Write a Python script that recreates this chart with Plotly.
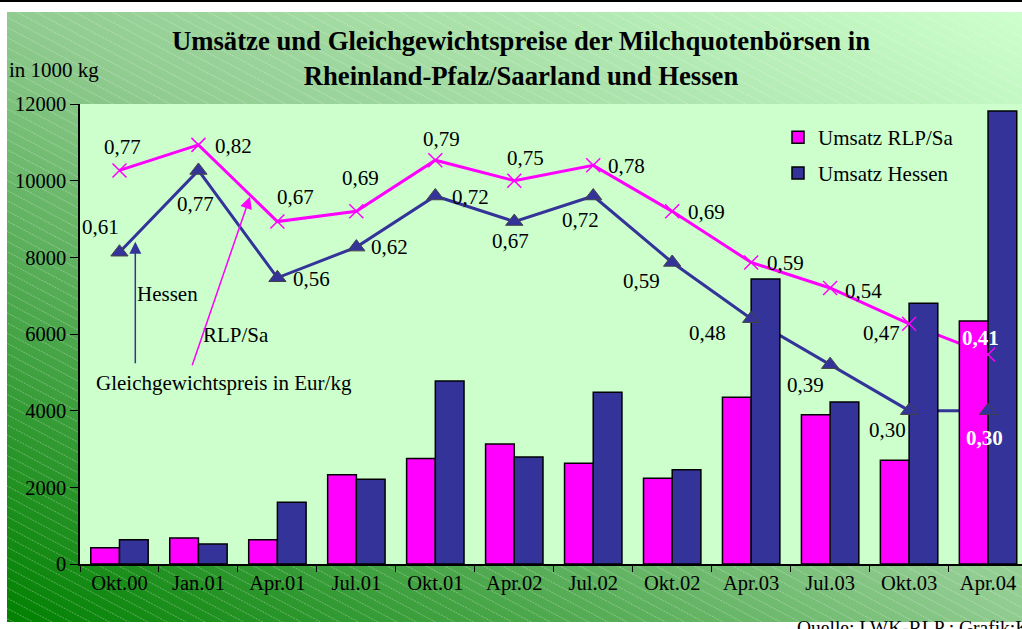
import base64
import plotly.graph_objects as go

categories = ["Okt.00", "Jan.01", "Apr.01", "Jul.01", "Okt.01", "Apr.02",
              "Jul.02", "Okt.02", "Apr.03", "Jul.03", "Okt.03", "Apr.04"]
umsatz_rlp = [425, 680, 635, 2330, 2750, 3130, 2625, 2235, 4350, 3895, 2705, 6340]
umsatz_hessen = [635, 520, 1610, 2210, 4775, 2790, 4480, 2460, 7435, 4225, 6800, 11820]
preis_rlp = [0.77, 0.82, 0.67, 0.69, 0.79, 0.75, 0.78, 0.69, 0.59, 0.54, 0.47, 0.41]
preis_hessen = [0.61, 0.77, 0.56, 0.62, 0.72, 0.67, 0.72, 0.59, 0.48, 0.39, 0.30, 0.30]
y_ticks = [0, 2000, 4000, 6000, 8000, 10000, 12000]

# label offsets (pixels, relative to the point; +dy = down)
off_rlp = [(3, -23), (35, 1), (18, -25), (4, -33), (6, -21), (11, -23),
           (33, 1), (34, 1), (34, 1), (33, 3), (-28, 9), (-8, -16)]
off_hessen = [(-19, -25), (-3, 34), (34, 1), (33, 0), (35, 1), (-4, 19),
              (-13, 24), (-31, 19), (-44, 14), (-25, 20), (-22, 19), (-4, 27)]

MAG = "#ff00ff"
BLU = "#333399"
FONT = "Liberation Serif, Times New Roman, serif"

W, H = 1022, 629
L, R, T, B = 80, 1022, 104, 564


def px(x):
    return (x - L) / (R - L)


def py(y):
    return (B - y) / (B - T)


def fmt(v):
    return ("%.2f" % v).replace(".", ",")


svg = """<svg xmlns="http://www.w3.org/2000/svg" width="1015" height="610" viewBox="0 0 1015 610" preserveAspectRatio="none">
<defs>
<linearGradient id="g" x1="0" y1="1" x2="1" y2="0">
<stop offset="0" stop-color="#008000"/><stop offset="0.5" stop-color="#90cb90"/><stop offset="1" stop-color="#ccffcc"/>
</linearGradient>
<pattern id="h" width="12" height="9" patternUnits="userSpaceOnUse" patternTransform="rotate(28)">
<line x1="0" y1="4.5" x2="12" y2="4.5" stroke="#ffffff" stroke-opacity="0.35" stroke-width="0.8" stroke-dasharray="2,1"/>
</pattern>
</defs>
<rect width="1015" height="610" fill="url(#g)"/>
<rect width="1015" height="610" fill="url(#h)"/>
</svg>"""
bg_uri = "data:image/svg+xml;base64," + base64.b64encode(svg.encode()).decode()

fig = go.Figure()

# price lines (behind bars)
fig.add_trace(go.Scatter(x=categories, y=preis_rlp, mode="lines", line=dict(color=MAG, width=3),
                         yaxis="y", showlegend=False, hoverinfo="skip"))
fig.add_trace(go.Scatter(x=categories, y=preis_hessen, mode="lines", line=dict(color=BLU, width=3),
                         yaxis="y", showlegend=False, hoverinfo="skip"))

# bars
fig.add_trace(go.Bar(x=categories, y=umsatz_rlp, name="Umsatz RLP/Sa", yaxis="y2",
                     marker=dict(color=MAG, line=dict(color="black", width=1.5)), legendgroup="a"))
fig.add_trace(go.Bar(x=categories, y=umsatz_hessen, name="Umsatz Hessen", yaxis="y2",
                     marker=dict(color=BLU, line=dict(color="black", width=1.5)), legendgroup="b"))

# markers (on top)
fig.add_trace(go.Scatter(x=categories, y=preis_rlp, mode="markers", yaxis="y3",
                         marker=dict(symbol="x-thin", size=14, line=dict(color=MAG, width=1.5)),
                         showlegend=False, hoverinfo="skip", cliponaxis=False))
fig.add_trace(go.Scatter(x=categories, y=preis_hessen, mode="markers", yaxis="y3",
                         marker=dict(symbol="triangle-up", size=15, color=BLU, line=dict(color="#444444", width=1)),
                         showlegend=False, hoverinfo="skip", cliponaxis=False))

annotations = []
for series, offs in ((preis_rlp, off_rlp), (preis_hessen, off_hessen)):
    for i, (c, v) in enumerate(zip(categories, series)):
        last = i == len(categories) - 1
        t = fmt(v)
        annotations.append(dict(
            x=c, y=v, xref="x", yref="y3", text=("<b>%s</b>" % t) if last else t,
            showarrow=False, xanchor="center", yanchor="middle",
            xshift=offs[i][0], yshift=-offs[i][1],
            font=dict(family=FONT, size=21, color="white" if last else "black")))

annotations += [
    dict(x=px(7), y=py(70), xref="paper", yref="paper", text="in 1000 kg", showarrow=False,
         xanchor="left", yanchor="middle", font=dict(family=FONT, size=21, color="black")),
    dict(x=px(167), y=py(294), xref="paper", yref="paper", text="Hessen", showarrow=False,
         xanchor="center", yanchor="middle", font=dict(family=FONT, size=21, color="black")),
    dict(x=px(236), y=py(335), xref="paper", yref="paper", text="RLP/Sa", showarrow=False,
         xanchor="center", yanchor="middle", font=dict(family=FONT, size=21, color="black")),
    dict(x=px(224), y=py(383), xref="paper", yref="paper", text="Gleichgewichtspreis in Eur/kg",
         showarrow=False, xanchor="center", yanchor="middle",
         font=dict(family=FONT, size=21, color="black")),
    dict(x=px(135.3), y=py(241.7), xref="paper", yref="paper", text="", showarrow=True,
         ax=0, ay=123, axref="pixel", ayref="pixel", arrowhead=2, arrowsize=1.6, arrowwidth=1.5,
         arrowcolor=BLU, standoff=0),
    dict(x=px(250), y=py(196.7), xref="paper", yref="paper", text="", showarrow=True,
         ax=-58.3, ay=170, axref="pixel", ayref="pixel", arrowhead=2, arrowsize=1.6, arrowwidth=1.5,
         arrowcolor=MAG, standoff=0),
    dict(x=px(795), y=py(615), xref="paper", yref="paper", text="Quelle: LWK-RLP ; Grafik:Ko",
         showarrow=False, xanchor="left", yanchor="top",
         font=dict(family=FONT, size=19.5, color="black")),
]

fig.update_layout(
    width=W, height=H,
    margin=dict(l=L, r=W - R, t=T, b=H - B, pad=0),
    paper_bgcolor="white",
    plot_bgcolor="#ccffcc",
    barmode="group", bargap=0.273, bargroupgap=0,
    font=dict(family=FONT, size=21, color="black"),
    title=dict(text="<b>Umsätze und Gleichgewichtspreise der Milchquotenbörsen in<br>"
                    "Rheinland-Pfalz/Saarland und Hessen</b>",
               x=521 / W, xanchor="center", xref="container",
               y=1 - 50 / H, yanchor="middle", yref="container",
               font=dict(family=FONT, size=26.7, color="black")),
    xaxis=dict(type="category", categoryorder="array", categoryarray=categories,
               range=[-0.5, 11.43], showline=True, linecolor="black", linewidth=1.5,
               ticks="outside", tickson="boundaries", ticklen=6, tickcolor="black", tickwidth=1,
               tickfont=dict(family=FONT, size=20.5, color="black"), showgrid=False,
               zeroline=False, anchor="y"),
    yaxis=dict(range=[0, 0.9], visible=False, showgrid=False, zeroline=False),
    yaxis2=dict(range=[0, 12000], overlaying="y", side="left", tickvals=y_ticks, tickformat="d",
                showline=True, linecolor="black", linewidth=1.5, ticks="outside", ticklen=8,
                tickcolor="black", tickwidth=1, tickfont=dict(family=FONT, size=20.5, color="black"),
                showgrid=False, zeroline=False, anchor="x"),
    yaxis3=dict(range=[0, 0.9], overlaying="y", visible=False, showgrid=False, zeroline=False),
    legend=dict(x=px(778), y=py(117), xanchor="left", yanchor="top", bgcolor="rgba(0,0,0,0)",
                traceorder="grouped", tracegroupgap=5.5,
                font=dict(family=FONT, size=21, color="black")),
    images=[dict(source=bg_uri, xref="paper", yref="paper", x=px(7), y=py(12),
                 sizex=(1022 - 7) / (R - L), sizey=(622 - 12) / (B - T),
                 xanchor="left", yanchor="top", sizing="stretch", layer="below")],
    shapes=[
        dict(type="rect", xref="paper", yref="paper", x0=0, x1=1, y0=0, y1=1,
             fillcolor="#ccffcc", line=dict(width=0), layer="below"),
        dict(type="rect", xref="paper", yref="paper", x0=px(0), x1=px(1022), y0=py(2), y1=py(0),
             fillcolor="black", line=dict(width=0), layer="below"),
    ],
    annotations=annotations,
    showlegend=True,
)

fig.write_html("out.html", config={"displayModeBar": False},
               post_script="document.body.style.margin='0';document.body.style.overflow='hidden';")
